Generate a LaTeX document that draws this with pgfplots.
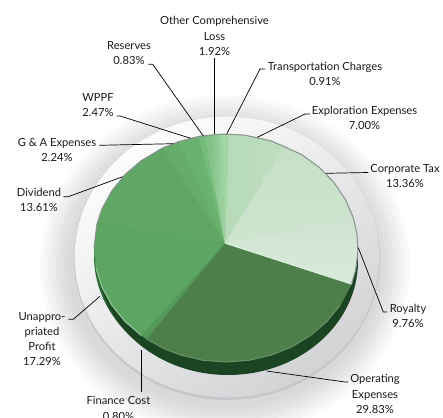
\documentclass[border=0pt]{standalone}
\usepackage{pgfplots}
\pgfplotsset{compat=1.18}
\usepackage{fontspec}
\setmainfont{Lato}
\definecolor{cTrans}{HTML}{A0D5A4}
\definecolor{cExplA}{HTML}{B6DBB8}
\definecolor{cExpl}{HTML}{C0DEC1}
\definecolor{cCorp}{HTML}{C6E1C7}
\definecolor{cCorpB}{HTML}{CEE4CF}
\definecolor{cRoy}{HTML}{DAE9DB}
\definecolor{cOper}{HTML}{4C7F4A}
\definecolor{cFin}{HTML}{55995A}
\definecolor{cUnap}{HTML}{5DA563}
\definecolor{cDiv}{HTML}{60A765}
\definecolor{cGA}{HTML}{66AC6B}
\definecolor{cWPPF}{HTML}{6AB26F}
\definecolor{cRes}{HTML}{76BC7B}
\definecolor{cOther}{HTML}{A2D5A5}
\definecolor{sideDark}{HTML}{1B4422}
\definecolor{sideLeft}{HTML}{2E6634}
\definecolor{plate}{HTML}{D2D3D5}
\definecolor{plateEdge}{HTML}{C6C7CA}
\definecolor{rim}{HTML}{8B918C}

\begin{document}
\begin{tikzpicture}[x=1pt,y=1pt]
\clip (0,0) rectangle (443,417);
\begin{axis}[
    at={(0,0)}, anchor=south west,
    width=443pt, height=417pt, scale only axis,
    xmin=0, xmax=443, ymin=0, ymax=417,
    y dir=reverse,
    axis lines=none,
    clip=false,
    every axis plot/.append style={forget plot},
]
    % soft shadow under the plate
    \pgfplotsinvokeforeach{157,161,165,169,173,177,181,185}{
        \fill[black, fill opacity=0.02] (axis cs:225,266) ellipse [x radius=#1, y radius=#1-14];
    }
    % plate
    \fill[plateEdge] (axis cs:227,258.5) ellipse [x radius=153, y radius=141.5];
    \shade[left color=white!95!plate, middle color=plate!65!white, right color=plate, shading angle=35]
        (axis cs:227,257) ellipse [x radius=152.3, y radius=140.3];

    % pie side
    \fill[sideLeft] (axis cs:226,256) ellipse [x radius=132, y radius=116];
    \fill[sideDark] (axis cs:228,261) ellipse [x radius=130, y radius=114];

    % slices, clockwise from the top
    % Transportation Charges 0.91
    \addplot[fill=cTrans, draw=cTrans, line width=0.4pt] coordinates {(225,243) (221.4,134.1) (229,134)} --cycle;
    % Exploration Expenses 7.00
    \addplot[left color=cExplA, right color=cExpl, draw=cExpl, line width=0.4pt] coordinates {(225,243) (229,134) (244.4,135.1) (257.9,137.4) (271.1,140.9) (284.9,146)} --cycle;
    % Corporate Tax 13.36
    \addplot[top color=cCorp, bottom color=cCorpB, draw=cCorp, line width=0.4pt] coordinates {(225,243) (284.9,146) (301.7,154.6) (319.3,167.4) (334.1,182.6) (345.6,199.8) (353.3,217.7)} --cycle;
    % Royalty 9.76
    \addplot[top color=cCorpB, bottom color=cRoy, draw=cRoy, line width=0.4pt] coordinates {(225,243) (353.3,217.7) (357,234.1) (357.9,252) (355.6,269.8) (351.5,284)} --cycle;
    % Operating Expenses 29.83
    \addplot[fill=cOper, draw=cOper, line width=0.4pt] coordinates {(225,243) (351.5,284) (340.3,305) (327.1,321.3) (310.8,335.3) (292,346.7) (271.1,355.1) (248.9,360.3) (226,362) (203.1,360.3) (180.9,355.1) (164,348.7) (146.4,338.9)} --cycle;
    % Finance Cost 0.80
    \addplot[fill=cFin, draw=cFin, line width=0.4pt] coordinates {(225,243) (146.4,338.9) (141.2,335.3)} --cycle;
    % Unappropriated Profit 17.29
    \addplot[fill=cUnap, draw=cUnap, line width=0.4pt] coordinates {(225,243) (141.2,335.3) (124.9,321.3) (111.7,305) (102,287) (96,267.8) (94,248) (97,223.9)} --cycle;
    % Dividend 13.61
    \addplot[fill=cDiv, draw=cDiv, line width=0.4pt] coordinates {(225,243) (97,223.9) (102,209) (111.7,191) (124.9,174.7) (141.2,160.7) (162.4,148.1)} --cycle;
    % G & A Expenses 2.24
    \addplot[fill=cGA, draw=cGA, line width=0.4pt] coordinates {(225,243) (162.4,148.1) (179.3,141.4)} --cycle;
    % WPPF 2.47
    \addplot[fill=cWPPF, draw=cWPPF, line width=0.4pt] coordinates {(225,243) (179.3,141.4) (199,136.4)} --cycle;
    % Reserves 0.83
    \addplot[fill=cRes, draw=cRes, line width=0.4pt] coordinates {(225,243) (199,136.4) (205.8,135.3)} --cycle;
    % Other Comprehensive Loss 1.92
    \addplot[left color=cRes, right color=cOther, draw=cOther, line width=0.4pt] coordinates {(225,243) (205.8,135.3) (221.4,134.1)} --cycle;

    % rim and highlights
    \addplot[rim, line width=1pt] coordinates {(94,248) (97,223.9) (102,209) (111.7,191) (124.9,174.7) (141.2,160.7) (162.4,148.1) (179.3,141.4) (199,136.4) (221.4,134.1) (244.4,135.1) (271.1,140.9) (301.7,154.6) (319.3,167.4) (334.1,182.6) (345.6,199.8) (353.3,217.7) (357,234.1) (357.9,252) (355.6,269.8) (351.5,284)};
    \addplot[white!70!cTrans, line width=1.2pt] coordinates {(225,243) (351.5,284)};
    \addplot[cUnap!70!white, line width=1.2pt] coordinates {(96,267.8) (102,287) (111.7,305) (124.9,321.3) (141.2,335.3)};
    \addplot[cOper!85!white, line width=1pt] coordinates {(146.4,338.9) (164,348.7) (180.9,355.1) (203.1,360.3) (226,362) (248.9,360.3) (271.1,355.1) (292,346.7) (310.8,335.3) (327.1,321.3) (340.3,305)};

    % leader lines
    \addplot[black, line width=0.7pt] coordinates {(148.3,64.3) (152.7,64.3) (203.3,136)};
    \addplot[black, line width=0.7pt] coordinates {(214.3,58.3) (214.3,134.3)};
    \addplot[black, line width=0.7pt] coordinates {(265,69) (260,69) (226.7,134)};
    \addplot[black, line width=0.7pt] coordinates {(310,114) (305,114) (257.3,137.3)};
    \addplot[black, line width=0.7pt] coordinates {(368.3,172.5) (326,173.3)};
    \addplot[black, line width=0.7pt] coordinates {(116.7,116) (120,116) (190.7,138.3)};
    \addplot[black, line width=0.7pt] coordinates {(99.3,145.3) (173.3,143.7)};
    \addplot[black, line width=0.7pt] coordinates {(63.3,196.7) (68.3,196.7) (122.7,176.7)};
    \addplot[black, line width=0.7pt] coordinates {(358.3,247.7) (383.3,312) (387.3,312)};
    \addplot[black, line width=0.7pt] coordinates {(266.7,371) (345,382) (348.3,382)};
    \addplot[black, line width=0.7pt] coordinates {(141.7,350.3) (141.7,392)};
    \addplot[black, line width=0.7pt] coordinates {(100,296.3) (73.3,319.3) (68.3,319.3)};

    % labels
    \tikzset{lab/.style={font=\fontsize{11.2}{15.2}\selectfont, align=center, inner sep=0pt, text=black!90}}
    \node[lab] at (axis cs:214.5,36) {Other Comprehensive\\Loss\\1.92\%};
    \node[lab] at (axis cs:129,53) {Reserves\\0.83\%};
    \node[lab] at (axis cs:98,105) {WPPF\\2.47\%};
    \node[lab] at (axis cs:57,150) {G \& A Expenses\\2.24\%};
    \node[lab] at (axis cs:39,200) {Dividend\\13.61\%};
    \node[lab] at (axis cs:325,74) {Transportation Charges\\0.91\%};
    \node[lab] at (axis cs:364.5,118) {Exploration Expenses\\7.00\%};
    \node[lab] at (axis cs:405,176) {Corporate Tax\\13.36\%};
    \node[lab] at (axis cs:408,316) {Royalty\\9.76\%};
    \node[lab] at (axis cs:375,394) {Operating\\Expenses\\29.83\%};
    \node[lab] at (axis cs:42,339) {Unappro-\\priated\\Profit\\17.29\%};
    \node[lab] at (axis cs:118.5,408.5) {Finance Cost\\0.80\%};
\end{axis}
\end{tikzpicture}
\end{document}
